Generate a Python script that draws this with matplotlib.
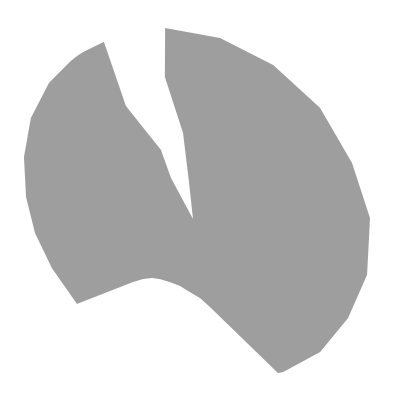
import numpy as np
import matplotlib
matplotlib.use("Agg")
import matplotlib.pyplot as plt

# outline of the filled polar shape
# angle in degrees (0 = east, counter-clockwise), radius in units of the outer ring
theta_deg = [98.0, 96.2, 96.6, 101.2, 98.3, 81.5, 62.5, 41.2, 19.4, 0.3,
             342.2, 327.4, 313.7, 300.5, 298.9, 280.9, 275.1, 267.6, 259.0, 249.9,
             241.2, 235.2, 230.2, 226.4, 216.2, 199.2, 185.1, 172.5, 159.9, 148.1,
             136.6, 125.3, 116.7, 120.7, 114.9, 118.2, 98.0]
radius = [0.0, 0.186, 0.433, 0.724, 0.965, 0.915, 0.868, 0.844, 0.843, 0.885,
          0.914, 0.920, 0.920, 0.888, 0.880, 0.448, 0.397, 0.366, 0.341, 0.336,
          0.343, 0.359, 0.391, 0.435, 0.719, 0.747, 0.793, 0.842, 0.900, 0.955,
          0.991, 1.005, 0.991, 0.657, 0.381, 0.233, 0.0]

fill_color = "#9e9e9e"

fig = plt.figure(figsize=(4.2, 4.2), dpi=100)
# polar axes centred where the shape's tip sits
cx, cy, R = 193, 219, 200
ax = fig.add_axes([(cx - R) / 420, (420 - cy - R) / 420, 2 * R / 420, 2 * R / 420],
                  projection="polar")

ax.fill(np.deg2rad(theta_deg), radius, color=fill_color, linewidth=0)

ax.set_ylim(0, 1)
ax.set_axis_off()

fig.savefig("out.png", dpi=100, facecolor="white")
